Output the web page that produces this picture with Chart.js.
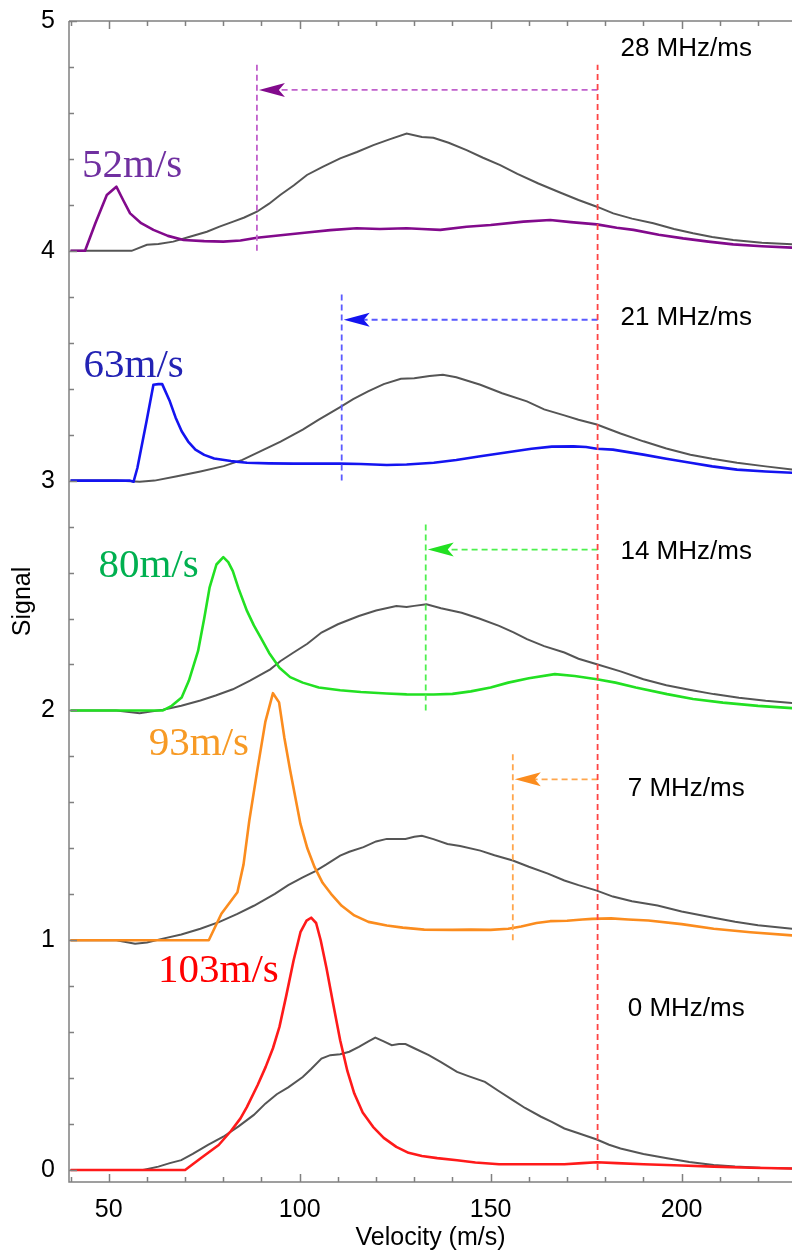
<!DOCTYPE html>
<html>
<head>
<meta charset="utf-8">
<title>Velocity distributions vs. chirp rate</title>
<script src="https://cdn.jsdelivr.net/npm/chart.js@4/dist/chart.umd.min.js"></script>
<style>
  html, body { margin: 0; padding: 0; background: #ffffff; }
  canvas { display: block; }
</style>
</head>
<body>
<canvas id="c" width="792" height="1258"></canvas>
<script>
// ---- data: [velocity (m/s), signal] pairs; each trace is offset by 1 per chirp rate ----
const chirpRates = [0, 7, 14, 21, 28];                 // MHz/ms
const peakVelocities = [103, 93, 80, 63, 52];          // m/s, peak of each coloured trace
const referenceVelocity = 178;                         // m/s, red dashed marker
const shiftedVelocities = [155.8, 133, 111, 88.8];     // m/s, arrow tips for 7..28 MHz/ms

const gray0 = [[40,0],[59,0],[63,0.015],[66,0.03],[69,0.043],[72,0.07],[76,0.11],[80,0.145],[84,0.19],[88,0.24],[91,0.289],[94,0.33],[97,0.36],[100.8,0.405],[103,0.44],[105.7,0.485],[108,0.5],[110.6,0.504],[113,0.515],[115.5,0.536],[118,0.56],[119.8,0.576],[122,0.56],[124.1,0.543],[126,0.548],[127.7,0.548],[130,0.53],[133.8,0.5],[137,0.47],[141.2,0.427],[144,0.41],[148.5,0.384],[152,0.345],[155.8,0.304],[159,0.27],[163.2,0.232],[166,0.21],[169.3,0.181],[173,0.16],[177.8,0.133],[181,0.11],[184,0.094],[190,0.07],[196.2,0.051],[202,0.035],[208.4,0.022],[214,0.015],[220.6,0.01],[229,0.007]];
const trace0 = [[40,0],[70,0],[74,0.05],[78.8,0.109],[82,0.17],[84.5,0.225],[86.2,0.275],[89,0.37],[91.1,0.449],[93,0.53],[94.7,0.623],[96.5,0.76],[98.4,0.912],[100.2,1.035],[101.8,1.085],[103,1.098],[104.3,1.075],[105.5,1.0],[107,0.88],[108.8,0.72],[110.6,0.565],[112.5,0.43],[114.3,0.333],[116.5,0.25],[119.2,0.188],[122,0.14],[125.3,0.101],[128.5,0.075],[132,0.061],[136,0.052],[141.2,0.043],[146,0.033],[152.2,0.025],[160,0.025],[169.3,0.025],[174,0.03],[177.8,0.034],[183,0.03],[190,0.025],[200,0.02],[208.4,0.015],[218,0.01],[229,0.007]];

const gray1 = [[40,1],[52,1],[56.9,0.985],[60,0.99],[64.2,1.007],[69,1.025],[74,1.05],[79,1.08],[83.7,1.115],[88,1.15],[93.5,1.202],[97,1.24],[100.8,1.274],[104,1.3],[107,1.33],[110.6,1.368],[113,1.385],[116.7,1.405],[120,1.43],[122.8,1.441],[126,1.44],[127.7,1.441],[130,1.45],[132,1.455],[135,1.44],[138.7,1.419],[142,1.41],[147.3,1.39],[151,1.37],[155.8,1.347],[160,1.32],[165,1.29],[169.3,1.26],[173,1.24],[177.8,1.216],[182,1.19],[187,1.17],[193.7,1.151],[200,1.125],[208.4,1.098],[214,1.08],[220,1.065],[229,1.05]];
const trace1 = [[40,1],[76.2,1],[79.5,1.115],[83.7,1.209],[85.3,1.33],[86.8,1.52],[89,1.75],[91,1.95],[93,2.075],[94.6,2.035],[96,1.88],[97.5,1.74],[100.2,1.506],[102,1.4],[103.9,1.318],[106,1.25],[108.2,1.202],[111,1.15],[114.3,1.108],[118,1.08],[122.8,1.064],[127,1.055],[132.6,1.046],[140,1.045],[144.8,1.046],[150,1.045],[154.6,1.05],[158,1.06],[162,1.075],[165.6,1.083],[170,1.085],[174,1.09],[176.6,1.093],[181.5,1.095],[186,1.09],[191.3,1.086],[200,1.07],[208.4,1.05],[218,1.035],[229,1.021]];

const gray2 = [[40,2],[52,2],[58.1,1.988],[61,1.995],[64.2,2.003],[69,2.02],[74,2.043],[78,2.065],[82.5,2.092],[87,2.13],[92.3,2.179],[95,2.215],[98.4,2.252],[102,2.29],[105.7,2.339],[110,2.375],[115.5,2.411],[120,2.435],[125.3,2.454],[128,2.45],[130,2.455],[133.2,2.462],[137,2.445],[142.4,2.425],[147,2.4],[152.2,2.368],[156,2.34],[159.5,2.31],[164,2.28],[169.3,2.252],[173,2.225],[177.8,2.201],[184,2.17],[190,2.136],[196,2.11],[202,2.09],[208.4,2.071],[215,2.055],[222,2.042],[229,2.032]];
const trace2 = [[40,2],[64.2,2],[66.5,2.02],[69.1,2.056],[71,2.13],[73.4,2.259],[75,2.4],[76.4,2.534],[78.2,2.635],[80,2.667],[81.3,2.645],[82.5,2.606],[84,2.53],[86.2,2.433],[88,2.37],[89.8,2.317],[92,2.25],[94.7,2.186],[97.5,2.145],[100.8,2.121],[105,2.1],[110.6,2.088],[116,2.08],[122.8,2.074],[128,2.07],[135.1,2.069],[140,2.072],[144.8,2.083],[150,2.1],[154.6,2.121],[160,2.14],[166.8,2.158],[172,2.15],[177.8,2.136],[182.7,2.121],[188,2.1],[196.2,2.071],[203,2.05],[210.8,2.034],[220,2.02],[229,2.01]];

const gray3 = [[40,3],[52,3],[58.1,2.995],[62,3],[67.9,3.019],[74,3.04],[80.1,3.063],[85,3.09],[89.8,3.128],[95,3.17],[100.8,3.222],[105,3.265],[110.6,3.32],[114,3.355],[117.9,3.388],[122,3.42],[126.5,3.443],[130,3.445],[134,3.455],[137.5,3.461],[141,3.45],[147.3,3.417],[153,3.38],[159.5,3.345],[164,3.31],[169.3,3.284],[173,3.265],[177.8,3.244],[184,3.205],[190,3.171],[196,3.14],[202.3,3.113],[208,3.095],[214.5,3.078],[222,3.062],[229,3.048]];
const trace3 = [[40,3],[55.6,3],[56.5,2.995],[57.5,3.055],[59.9,3.258],[61.7,3.417],[63,3.42],[64,3.42],[66,3.345],[67.5,3.275],[69.1,3.215],[70.8,3.17],[72.7,3.135],[75,3.112],[77.6,3.096],[82,3.085],[86.2,3.078],[92,3.075],[98.4,3.074],[104,3.074],[110.6,3.074],[116,3.072],[122.8,3.068],[128,3.07],[135.1,3.078],[141,3.09],[147.3,3.106],[154,3.122],[160.7,3.139],[166,3.148],[171.7,3.149],[175,3.146],[177.8,3.139],[182,3.135],[190,3.113],[196,3.095],[202.3,3.078],[208,3.062],[214.5,3.048],[222,3.04],[229,3.034]];

const gray4 = [[40,4],[56,4],[60,4.026],[63,4.03],[66.9,4.04],[71,4.06],[75.7,4.083],[79,4.105],[82.6,4.127],[85.5,4.145],[88.8,4.17],[92,4.205],[94.9,4.243],[98.5,4.285],[101.9,4.33],[106,4.365],[110.6,4.402],[115,4.43],[119.3,4.46],[123.5,4.485],[128,4.51],[132,4.495],[135,4.492],[139,4.47],[143.7,4.438],[148,4.405],[152.5,4.373],[157,4.335],[162.5,4.293],[168,4.255],[173,4.221],[177.8,4.192],[182.1,4.163],[187,4.14],[192.6,4.12],[198,4.095],[203,4.076],[208,4.06],[213.5,4.047],[221,4.035],[229,4.028]];
const trace4 = [[40,4],[43.8,4],[46.5,4.12],[49.5,4.243],[52,4.279],[53.8,4.22],[55.6,4.163],[58.5,4.12],[61.7,4.091],[65.5,4.065],[69.6,4.047],[75,4.042],[80,4.04],[84.5,4.045],[88.8,4.057],[95,4.068],[101.9,4.08],[108,4.09],[114.9,4.098],[121,4.095],[128,4.098],[132,4.095],[136.8,4.091],[143.7,4.105],[150,4.112],[158.6,4.127],[165.6,4.134],[171,4.125],[177.8,4.115],[183,4.1],[187.4,4.091],[194,4.07],[200.4,4.054],[207,4.04],[213.5,4.028],[221,4.02],[229,4.014]];

// ---- styling ----
const traceColors  = ['#ff1a1a', '#fb8c1e', '#22e022', '#1414f0', '#820a8c'];
const dashColors   = ['#ff4444', '#ffa64d', '#4ef04e', '#5a5aff', '#c060cc'];
const labelColors  = ['#ff0000', '#f79a25', '#00b050', '#2323b4', '#7030a0'];
const grayColor = '#555555';

// peak-label anchors (left, baseline) and chirp-label centres, in axis units
const peakLabelAnchor = [[62.9, 0.818], [60.5, 1.807], [47.3, 2.58], [43.4, 3.449], [43.0, 4.322]];
const rateLabelAnchor = [[201.2, 0.70], [201.2, 1.66], [201.2, 2.69], [201.2, 3.71], [201.2, 4.88]];
const arrowLevel = 0.70;     // arrow height above each trace's baseline
const markerTop = 0.81;      // top of dashed markers above each trace's baseline

const toXY = arr => arr.map(p => ({ x: p[0], y: p[1] }));
const grays = [gray0, gray1, gray2, gray3, gray4];
const traces = [trace0, trace1, trace2, trace3, trace4];

const datasets = [];
grays.forEach((g, i) => datasets.push({
  data: toXY(g), borderColor: grayColor, borderWidth: 2, pointRadius: 0,
  tension: 0, order: 20
}));
traces.forEach((t, i) => datasets.push({
  data: toXY(t), borderColor: traceColors[i], borderWidth: 2.6, pointRadius: 0,
  tension: 0, borderJoinStyle: 'round', order: 10
}));
// red reference marker
datasets.push({
  data: [{ x: referenceVelocity, y: 0 }, { x: referenceVelocity, y: 4 + markerTop }],
  borderColor: dashColors[0], borderWidth: 1.8, borderDash: [6, 4], pointRadius: 0, tension: 0, order: 1
});
// shifted markers and arrows for each non-zero chirp rate
shiftedVelocities.forEach((v, k) => {
  const i = k + 1;
  datasets.push({
    data: [{ x: v, y: i }, { x: v, y: i + markerTop }],
    borderColor: dashColors[i], borderWidth: 1.8, borderDash: [6, 4], pointRadius: 0, tension: 0, order: 2
  });
  datasets.push({
    data: [{ x: referenceVelocity, y: i + arrowLevel }, { x: v + 3, y: i + arrowLevel }],
    borderColor: dashColors[i], borderWidth: 1.8, borderDash: [6, 4], pointRadius: 0, tension: 0, order: 2
  });
});

const decor = {
  id: 'decor',
  afterDatasetsDraw(chart) {
    const { ctx, chartArea: a, scales: { x, y } } = chart;
    ctx.save();
    // frame: left, bottom and top edges with inward ticks
    ctx.strokeStyle = '#808080';
    ctx.lineWidth = 1.5;
    ctx.beginPath();
    ctx.moveTo(a.left, a.top); ctx.lineTo(a.left, a.bottom); ctx.lineTo(a.right, a.bottom);
    ctx.moveTo(a.left, a.top); ctx.lineTo(a.right, a.top);
    x.ticks.forEach(t => {
      const px = Math.round(x.getPixelForValue(t.value)) + 0.5;
      const len = t.value % 50 === 0 ? 8 : 5;
      ctx.moveTo(px, a.bottom); ctx.lineTo(px, a.bottom - len);
      ctx.moveTo(px, a.top); ctx.lineTo(px, a.top + len);
    });
    y.ticks.forEach(t => {
      const py = Math.round(y.getPixelForValue(t.value)) + 0.5;
      const major = Math.abs(t.value - Math.round(t.value)) < 1e-9;
      ctx.moveTo(a.left, py); ctx.lineTo(a.left + (major ? 8 : 5), py);
    });
    ctx.stroke();

    // arrowheads pointing at the shifted velocities
    shiftedVelocities.forEach((v, k) => {
      const i = k + 1;
      const tx = x.getPixelForValue(v) + 2;
      const ty = y.getPixelForValue(i + arrowLevel);
      ctx.fillStyle = traceColors[i];
      ctx.beginPath();
      ctx.moveTo(tx, ty);
      ctx.lineTo(tx + 26, ty - 7);
      ctx.lineTo(tx + 20, ty);
      ctx.lineTo(tx + 26, ty + 7);
      ctx.closePath();
      ctx.fill();
    });

    // peak velocity labels
    ctx.font = '41px "Liberation Serif", "Times New Roman", serif';
    ctx.textAlign = 'left';
    ctx.textBaseline = 'alphabetic';
    peakVelocities.forEach((v, i) => {
      ctx.fillStyle = labelColors[i];
      ctx.fillText(v + 'm/s', x.getPixelForValue(peakLabelAnchor[i][0]), y.getPixelForValue(peakLabelAnchor[i][1]));
    });

    // chirp-rate labels
    ctx.font = '26px "Liberation Sans", Arial, sans-serif';
    ctx.textAlign = 'center';
    ctx.textBaseline = 'middle';
    ctx.fillStyle = '#000000';
    chirpRates.forEach((r, i) => {
      ctx.fillText(r + ' MHz/ms', x.getPixelForValue(rateLabelAnchor[i][0]), y.getPixelForValue(rateLabelAnchor[i][1]));
    });
    ctx.restore();
  }
};

const axisFont = { family: '"Liberation Sans", Arial, sans-serif', size: 25 };

new Chart(document.getElementById('c'), {
  type: 'line',
  data: { datasets },
  options: {
    responsive: false,
    animation: false,
    devicePixelRatio: 1,
    layout: { padding: { top: 19, left: 0, right: 0, bottom: 0 } },
    plugins: { legend: { display: false }, tooltip: { enabled: false } },
    scales: {
      x: {
        type: 'linear', min: 39.6, max: 228.9,
        grid: { display: false }, border: { display: false },
        afterBuildTicks: s => { const t = []; for (let v = 40; v <= 220; v += 10) t.push({ value: v }); s.ticks = t; },
        ticks: {
          autoSkip: false, maxRotation: 0, padding: 5, color: '#000000', font: axisFont,
          callback: v => (v % 50 === 0 ? String(v) : '')
        },
        title: { display: true, text: 'Velocity (m/s)', color: '#000000', font: axisFont, padding: { top: 0, bottom: 5 } },
        afterFit: s => { s.height = 76; }
      },
      y: {
        type: 'linear', min: -0.052, max: 5,
        grid: { display: false }, border: { display: false },
        afterBuildTicks: s => { const t = []; for (let k = 0; k <= 25; k++) t.push({ value: k / 5 }); s.ticks = t; },
        ticks: {
          autoSkip: false, padding: 6, color: '#000000', font: axisFont,
          callback: v => (Math.abs(v - Math.round(v)) < 1e-9 ? String(Math.round(v)) : '')
        },
        title: { display: true, text: 'Signal', color: '#000000', font: axisFont, padding: { top: 8, bottom: 0 } },
        afterFit: s => { s.width = 69; }
      }
    }
  },
  plugins: [decor]
});
</script>
</body>
</html>
